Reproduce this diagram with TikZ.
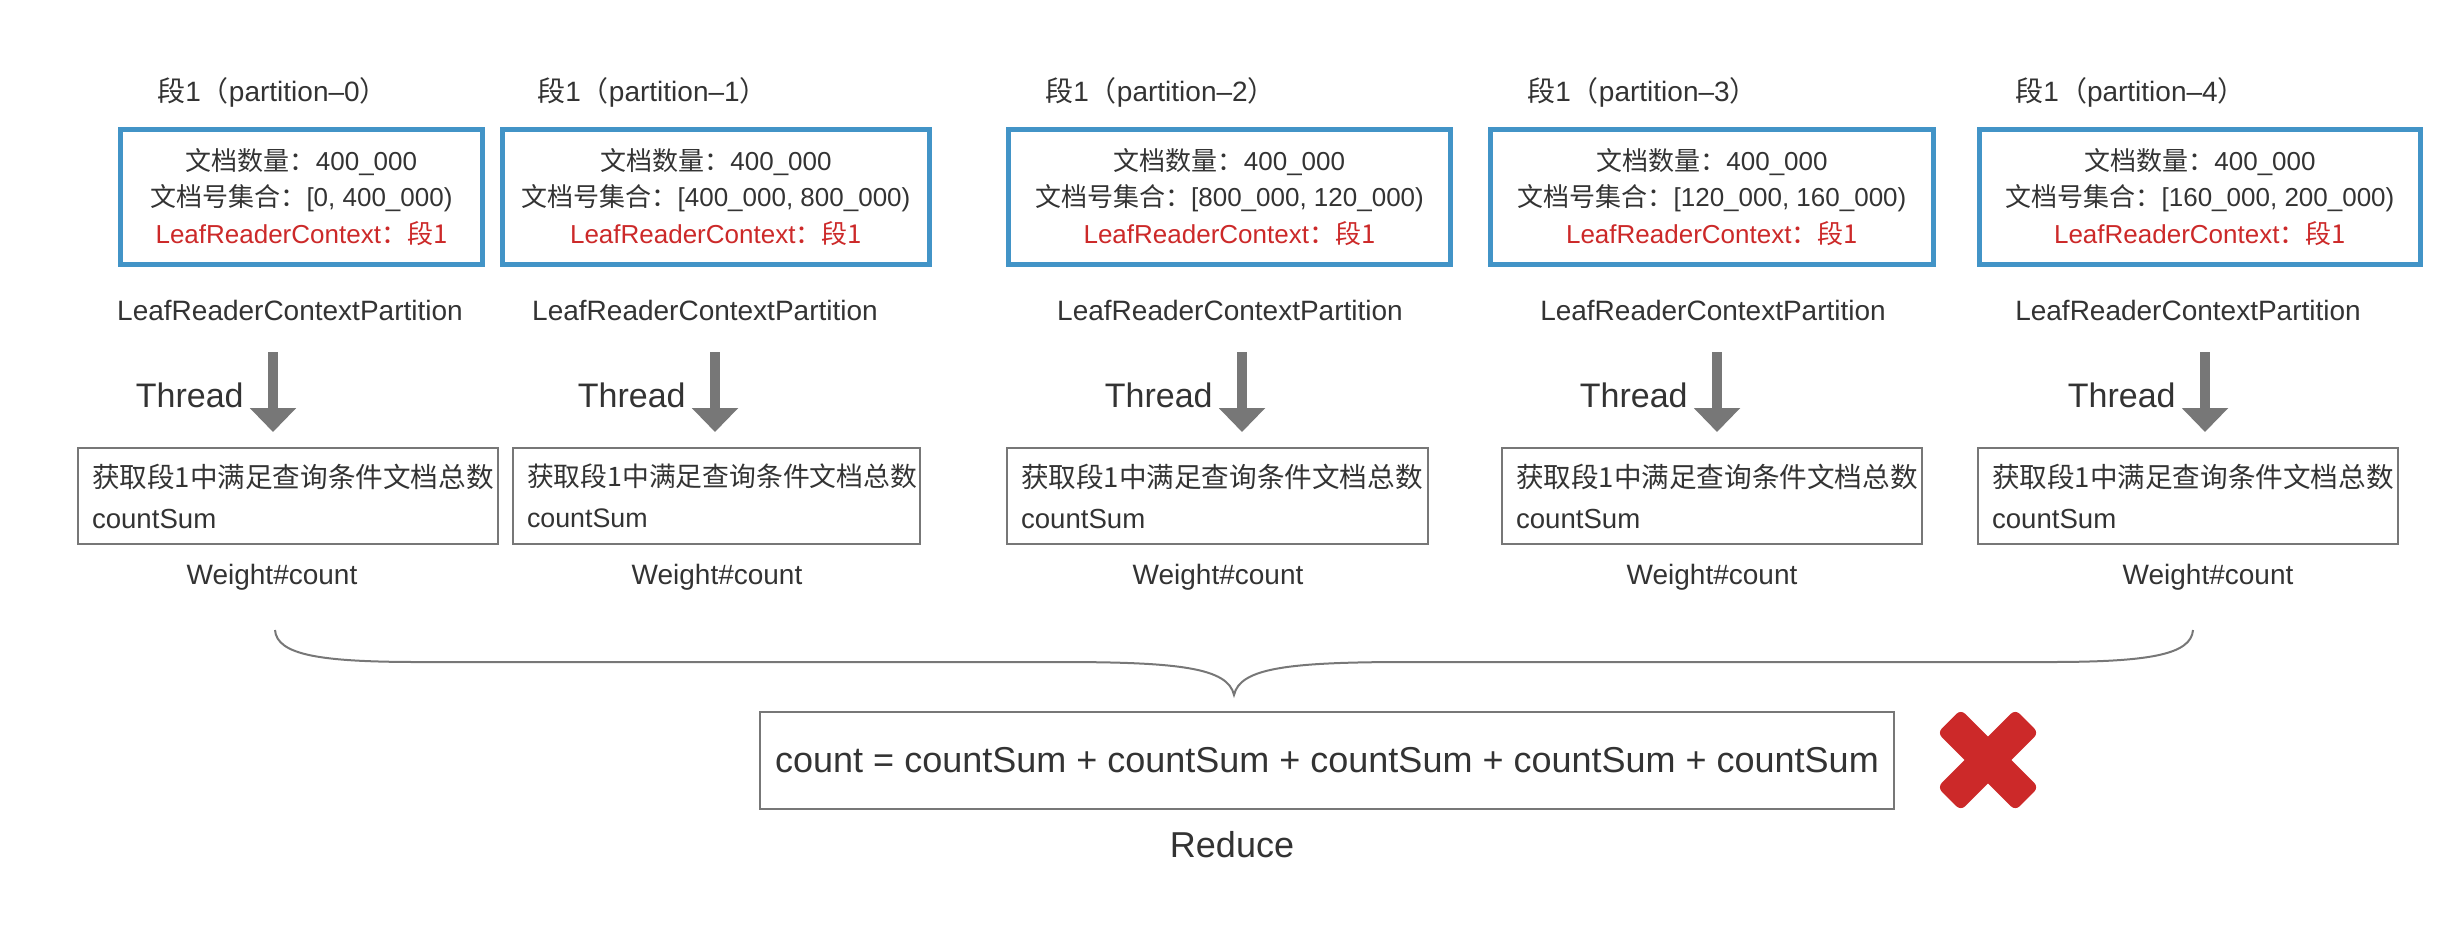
\documentclass[tikz,border=0pt]{standalone}
\usepackage{fontspec}
\setmainfont{Liberation Sans}
\newfontfamily\cjk{Noto Sans CJK SC}
\usetikzlibrary{arrows.meta}
\definecolor{segblue}{RGB}{66,148,199}
\definecolor{ctxred}{RGB}{204,41,41}
\definecolor{linegray}{RGB}{119,119,119}
\definecolor{txtgray}{RGB}{51,51,51}
\newcommand{\ctxline}{{\color{ctxred}LeafReaderContext{\cjk ：段1}}}
\newcommand{\sumtext}{{\cjk 获取段1中满足查询条件文档总数}\\countSum}

\begin{document}
\begin{tikzpicture}[x=0.5pt, y=-0.5pt,
  every node/.style={text=txtgray, inner sep=0pt},
  segbox/.style={draw=segblue, line width=2.5pt, minimum height=67.5pt, minimum width=#1,
    align=center, font=\fontsize{13}{18.25}\selectfont},
  sumbox/.style={draw=linegray, line width=1pt, minimum height=48pt, text width=#1,
    inner xsep=7pt, align=left, font=\fontsize{13.8}{20.5}\selectfont},
  segtitle/.style={anchor=west, font=\fontsize{14}{16}\selectfont},
  lbl/.style={font=\fontsize{14}{16}\selectfont},
  thr/.style={anchor=east, font=\fontsize{17}{20}\selectfont},
  thrarrow/.style={draw=linegray, line width=5pt, shorten >=7.5pt,
    -{Triangle[width=22.5pt, length=12pt]}},
  xarm/.style={fill=ctxred, rounded corners=3pt, minimum width=55pt, minimum height=16.5pt}]
  \useasboundingbox (0,0) rectangle (2460,950);

  % segments
  \node[segtitle] (st0) at (157,92) {{\cjk 段}1{\cjk （}partition--0{\cjk ）}};
  \node[segtitle] (st1) at (537,92) {{\cjk 段}1{\cjk （}partition--1{\cjk ）}};
  \node[segtitle] (st2) at (1045,92) {{\cjk 段}1{\cjk （}partition--2{\cjk ）}};
  \node[segtitle] (st3) at (1527,92) {{\cjk 段}1{\cjk （}partition--3{\cjk ）}};
  \node[segtitle] (st4) at (2015,92) {{\cjk 段}1{\cjk （}partition--4{\cjk ）}};

  \node[segbox=181pt] (seg0) at (301.5,197) {{\cjk 文档数量：}400\_000\\{\cjk 文档号集合：}[0, 400\_000)\\\ctxline};
  \node[segbox=213.5pt] (seg1) at (716,197) {{\cjk 文档数量：}400\_000\\{\cjk 文档号集合：}[400\_000, 800\_000)\\\ctxline};
  \node[segbox=221pt] (seg2) at (1229.5,197) {{\cjk 文档数量：}400\_000\\{\cjk 文档号集合：}[800\_000, 120\_000)\\\ctxline};
  \node[segbox=221.5pt] (seg3) at (1712,197) {{\cjk 文档数量：}400\_000\\{\cjk 文档号集合：}[120\_000, 160\_000)\\\ctxline};
  \node[segbox=220.5pt] (seg4) at (2200,197) {{\cjk 文档数量：}400\_000\\{\cjk 文档号集合：}[160\_000, 200\_000)\\\ctxline};

  \node[lbl] (lp0) at (290,310) {LeafReaderContextPartition};
  \node[lbl] (lp1) at (705,310) {LeafReaderContextPartition};
  \node[lbl] (lp2) at (1230,310) {LeafReaderContextPartition};
  \node[lbl] (lp3) at (1713,310) {LeafReaderContextPartition};
  \node[lbl] (lp4) at (2188,310) {LeafReaderContextPartition};

  % threads
  \node[thr] (th0) at (244,395) {Thread};
  \node[thr] (th1) at (686,395) {Thread};
  \node[thr] (th2) at (1213,395) {Thread};
  \node[thr] (th3) at (1688,395) {Thread};
  \node[thr] (th4) at (2176,395) {Thread};

  \node[sumbox=196pt] (sum0) at (288,496) {\sumtext};
  \node[sumbox=189.5pt, font=\fontsize{13.4}{20.5}\selectfont] (sum1) at (716.5,496) {\sumtext};
  \node[sumbox=196.5pt] (sum2) at (1217.5,496) {\sumtext};
  \node[sumbox=196pt] (sum3) at (1712,496) {\sumtext};
  \node[sumbox=196pt] (sum4) at (2188,496) {\sumtext};

  \coordinate (t0) at (273,352);
  \coordinate (t1) at (715,352);
  \coordinate (t2) at (1242,352);
  \coordinate (t3) at (1717,352);
  \coordinate (t4) at (2205,352);
  \draw[thrarrow] (t0) -- (t0 |- sum0.north);
  \draw[thrarrow] (t1) -- (t1 |- sum1.north);
  \draw[thrarrow] (t2) -- (t2 |- sum2.north);
  \draw[thrarrow] (t3) -- (t3 |- sum3.north);
  \draw[thrarrow] (t4) -- (t4 |- sum4.north);

  \node[lbl] (wc0) at (272,577) {Weight\#count};
  \node[lbl] (wc1) at (717,577) {Weight\#count};
  \node[lbl] (wc2) at (1218,577) {Weight\#count};
  \node[lbl] (wc3) at (1712,577) {Weight\#count};
  \node[lbl] (wc4) at (2208,577) {Weight\#count};

  % reduce
  \draw[linegray, line width=1pt] (275,630) .. controls (277,655) and (320,662) .. (420,662)
    -- (1060,662) .. controls (1180,662) and (1228,668) .. (1234,695)
    .. controls (1240,668) and (1288,662) .. (1408,662)
    -- (2048,662) .. controls (2148,662) and (2191,655) .. (2193,630);
  \node[draw=linegray, line width=1pt, minimum width=567pt, minimum height=48.5pt,
    font=\fontsize{18}{20}\selectfont] (total) at (1327,760.5)
    {count = countSum + countSum + countSum + countSum + countSum};
  \node[font=\fontsize{18}{20}\selectfont] (red) at (1232,845) {Reduce};
  \node[xarm, rotate=45] (xa) at (1988,760) {};
  \node[xarm, rotate=-45] (xb) at (1988,760) {};
\end{tikzpicture}
\end{document}
